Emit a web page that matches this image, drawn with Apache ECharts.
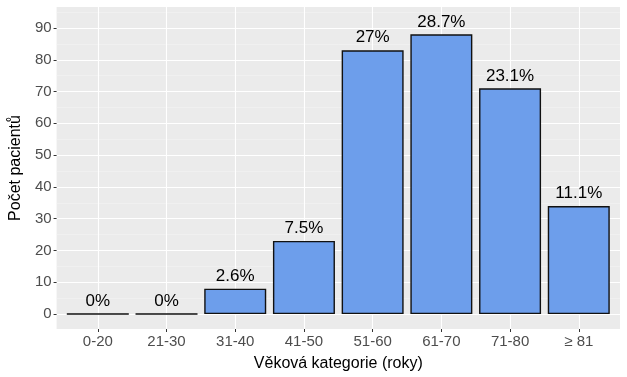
<!DOCTYPE html>
<html>
<head>
<meta charset="utf-8">
<script src="https://cdn.jsdelivr.net/npm/echarts@6/dist/echarts.min.js"></script>
<style>
  html, body { margin: 0; padding: 0; background: #fff; }
  #chart { width: 627px; height: 377px; }
</style>
</head>
<body>
<div id="chart"></div>
<script>
// data
const categories = ['0-20', '21-30', '31-40', '41-50', '51-60', '61-70', '71-80', '≥ 81']
const patients = [0, 0, 8, 23, 83, 88, 71, 34]
const percentLabels = ['0%', '0%', '2.6%', '7.5%', '27%', '28.7%', '23.1%', '11.1%']
const yMajorTicks = [0, 10, 20, 30, 40, 50, 60, 70, 80, 90]
const yMinorTicks = [5, 15, 25, 35, 45, 55, 65, 75, 85, 95]
const xTicks = [0, 1, 2, 3, 4, 5, 6, 7]

const chart = echarts.init(document.getElementById('chart'), null, { renderer: 'canvas' })

const font = 'Liberation Sans, Arial, sans-serif'
const Y_MIN = -4.7
const Y_MAX = 96.6

let option = {
  backgroundColor: '#ffffff',
  animation: false,
  grid: {
    left: 53,
    right: 7,
    top: 7,
    bottom: 47,
    show: true,
    backgroundColor: '#EBEBEB',
    borderWidth: 0,
  },
  xAxis: {
    type: 'value',
    min: -0.6,
    max: 7.6,
    name: 'Věková kategorie (roky)',
    nameLocation: 'middle',
    nameGap: 27,
    nameTextStyle: { fontFamily: font, fontSize: 16, color: '#000' },
    axisLine: { show: false, onZero: false },
    axisTick: {
      show: true,
      customValues: xTicks,
      length: 3,
      lineStyle: { color: '#333333', width: 1 },
    },
    axisLabel: {
      customValues: xTicks,
      margin: 5,
      fontFamily: font,
      fontSize: 15,
      color: '#4D4D4D',
      formatter: (v) => categories[Math.round(v)] || '',
    },
    splitLine: { show: true, lineStyle: { color: '#ffffff', width: 1.1 } },
  },
  yAxis: [
    {
      type: 'value',
      min: Y_MIN,
      max: Y_MAX,
      name: 'Počet pacientů',
      nameLocation: 'middle',
      nameGap: 32,
      nameTextStyle: { fontFamily: font, fontSize: 16, color: '#000' },
      axisLine: { show: false, onZero: false },
      axisTick: {
        show: true,
        customValues: yMajorTicks,
        length: 3,
        lineStyle: { color: '#333333', width: 1 },
      },
      axisLabel: {
        customValues: yMajorTicks,
        margin: 5,
        fontFamily: font,
        fontSize: 15,
        color: '#4D4D4D',
      },
      splitLine: { show: true, lineStyle: { color: '#ffffff', width: 1.1 } },
    },
    {
      // minor grid lines
      type: 'value',
      min: Y_MIN,
      max: Y_MAX,
      position: 'left',
      axisLine: { show: false, onZero: false },
      axisTick: { show: false, customValues: yMinorTicks },
      axisLabel: { show: false, customValues: yMinorTicks },
      splitLine: { show: true, lineStyle: { color: '#F4F4F4', width: 0.6 } },
    },
  ],
  series: [
    {
      type: 'bar',
      yAxisIndex: 0,
      barWidth: 62,
      data: patients.map((v, i) => [i, v]),
      itemStyle: {
        color: '#6D9EEB',
        borderColor: '#111111',
        borderWidth: 1.4,
      },
      label: {
        show: true,
        position: 'top',
        distance: 4,
        fontFamily: font,
        fontSize: 17,
        color: '#000',
        formatter: (p) => percentLabels[p.dataIndex],
      },
    },
  ],
}

chart.setOption(option)
</script>
</body>
</html>
